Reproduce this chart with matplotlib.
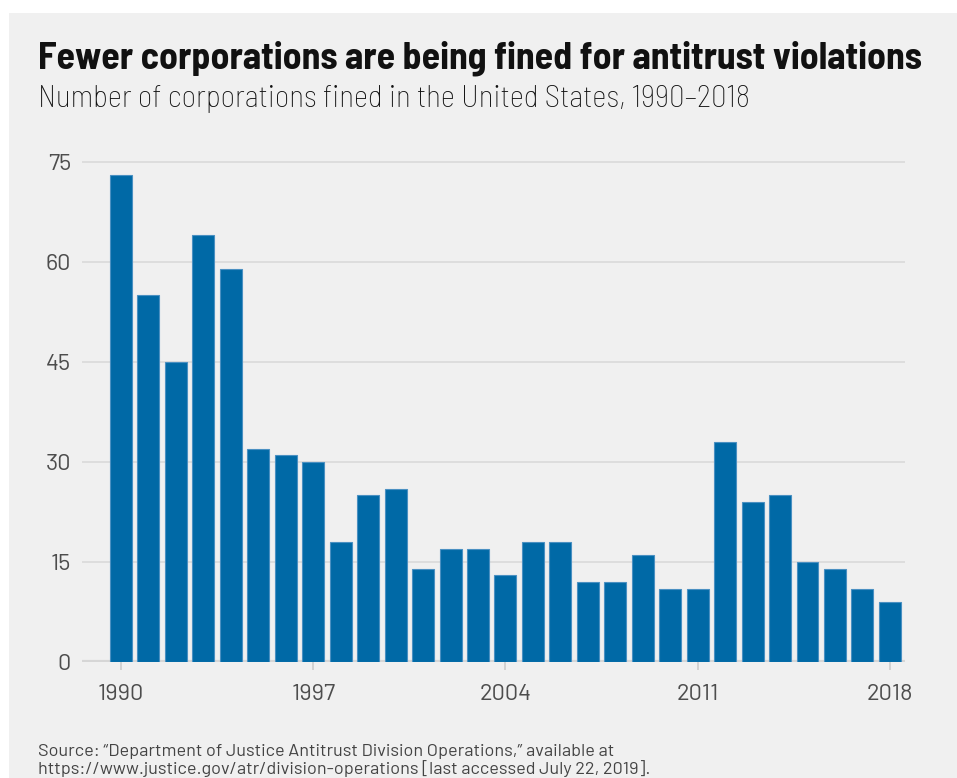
import matplotlib
matplotlib.use("Agg")
import matplotlib.pyplot as plt
from matplotlib.patches import Rectangle

years = list(range(1990, 2019))
counts = [73, 55, 45, 64, 59, 32, 31, 30, 18, 25, 26, 14, 17, 17, 13,
          18, 18, 12, 12, 16, 11, 11, 33, 24, 25, 15, 14, 11, 9]
yticks = [0, 15, 30, 45, 60, 75]
xticks = [1990, 1997, 2004, 2011, 2018]

title = "Fewer corporations are being fined for antitrust violations"
subtitle = "Number of corporations fined in the United States, 1990\u20132018"
source1 = "Source: \u201cDepartment of Justice Antitrust Division Operations,\u201d available at"
source2 = "https://www.justice.gov/atr/division-operations [last accessed July 22, 2019]."

W, H = 957, 778
fig = plt.figure(figsize=(W / 100, H / 100), dpi=100)
fig.patch.set_facecolor("white")
fig.patches.append(Rectangle((9 / W, 0), 1, (H - 13) / H, transform=fig.transFigure,
                             facecolor="#f0f0f0", edgecolor="none", zorder=-10))

semi = ["Barlow Semi Condensed", "DejaVu Sans"]
reg = ["Barlow", "DejaVu Sans"]

fig.text(38 / W, 1 - 68 / H, title, fontsize=27.1, fontweight="bold", family=semi,
         color="#111111", va="baseline", ha="left")
fig.text(38 / W, 1 - 107 / H, subtitle, fontsize=22.3, fontweight="light", family=semi,
         color="#111111", va="baseline", ha="left")
fig.text(38 / W, 1 - 756 / H, source1, fontsize=13, family=reg,
         color="#444444", va="baseline", ha="left")
fig.text(38 / W, 1 - 774 / H, source2, fontsize=13, family=reg,
         color="#444444", va="baseline", ha="left")

ppu = 500 / 75.0
ymax = 76
top_px = 662 - ymax * ppu
ax = fig.add_axes([82 / W, (H - 662) / H, (905 - 82) / W, (662 - top_px) / H])
ax.set_zorder(1)
ax.set_facecolor("none")
ax.bar(years, counts, width=0.8, color="#0069a6", edgecolor="#4a90c2", linewidth=0.8, zorder=3)
ax.set_xlim(1988.58, 2018.55)
ax.set_ylim(0, ymax)
ax.set_yticks(yticks)
ax.set_xticks(xticks)
for s in ax.spines.values():
    s.set_visible(False)
ax.grid(axis="y", color="#dcdcdc", linewidth=1.3, zorder=0)
ax.axhline(0, color="#d6d6d6", linewidth=3, zorder=2)
ax.tick_params(axis="y", length=0, pad=8, labelsize=17, labelcolor="#4d4d4d")
ax.tick_params(axis="x", length=6, width=1.2, color="#cccccc", pad=10,
               labelsize=17, labelcolor="#4d4d4d")
for lab in ax.get_xticklabels() + ax.get_yticklabels():
    lab.set_family(reg)

fig.savefig("out.png", dpi=100, facecolor=fig.get_facecolor())
